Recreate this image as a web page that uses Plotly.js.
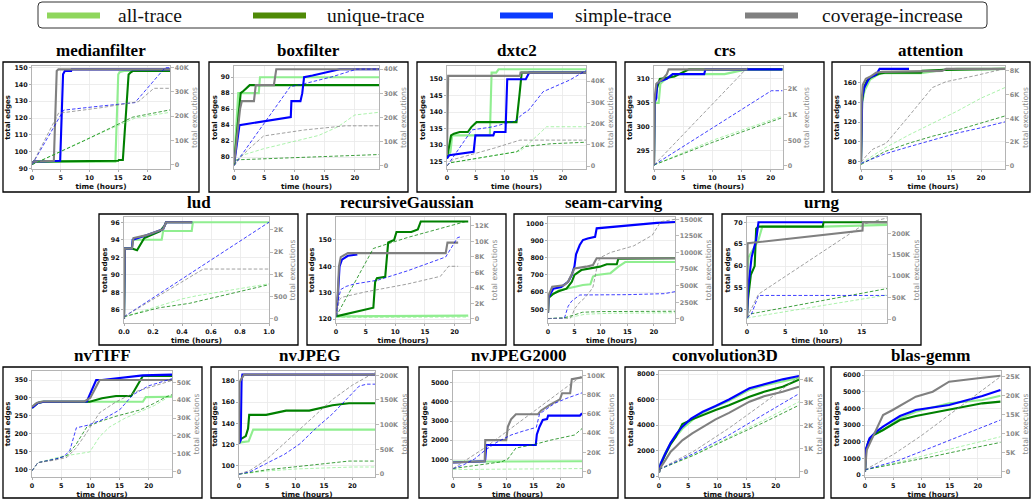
<!DOCTYPE html>
<html><head><meta charset="utf-8">
<script src="https://cdn.plot.ly/plotly-3.0.1.min.js"></script>
<style>html,body{margin:0;padding:0;background:#fff}#chart{width:1036px;height:503px}</style>
</head><body><div id="chart"></div>
<script>
// ---------------- DATA ----------------
const seriesNames = ['all-trace','unique-trace','simple-trace','coverage-increase'];
const panelTitles = ['medianfilter','boxfilter','dxtc2','crs','attention','lud','recursiveGaussian','seam-carving','urng','nvTIFF','nvJPEG','nvJPEG2000','convolution3D','blas-gemm'];

// tick labels
const xticksHours = [0,5,10,15,20];
const xticksUrng = [0,5,10,15];
const xticksLud = [0,0.2,0.4,0.6,0.8,1.0];
const xticksLudText = ['0.0','0.2','0.4','0.6','0.8','1.0'];

const mf_yt = [90,100,110,120,130,140,150];
const bf_yt = [80,82,84,86,88,90];
const dx_yt = [125,130,135,140,145,150];
const crs_yt = [295,300,305,310];
const att_yt = [80,100,120,140,160];
const lud_yt = [86,88,90,92,94,96];
const rg_yt = [120,130,140,150];
const sc_yt = [500,600,700,800,900,1000];
const urng_yt = [50,55,60,65,70];
const tiff_yt = [100,150,200,250,300,350];
const jpeg_yt = [100,120,140,160,180];
const j2k_yt = [1000,2000,3000,4000,5000];
const c3d_yt = [0,2000,4000,6000,8000];
const gemm_yt = [0,1000,2000,3000,4000,5000,6000];

// secondary (executions, in thousands) ticks
const ex40_v = [0,10,20,30,40]; const ex40_t = ['0','10K','20K','30K','40K'];
const crs_ev = [0,0.5,1,1.5]; const crs_et = ['0','500','1K','2K'];
const att_ev = [0,2,4,6,8]; const att_et = ['0','2K','4K','6K','8K'];
const lud_ev = [0,0.5,1,1.5,2]; const lud_et = ['0','500','1K','2K','2K'];
const rg_ev = [0,2,4,6,8,10,12]; const rg_et = ['0','2K','4K','6K','8K','10K','12K'];
const sc_ev = [0,250,500,750,1000,1250,1500]; const sc_et = ['0','250K','500K','750K','1000K','1250K','1500K'];
const k200_v = [0,50,100,150,200]; const k200_t = ['0','50K','100K','150K','200K'];
const tiff_ev = [0,10,20,30,40,50]; const tiff_et = ['0','10K','20K','30K','40K','50K'];
const j2k_ev = [0,20,40,60,80,100]; const j2k_et = ['0','20K','40K','60K','80K','100K'];
const c3d_ev = [0,1,2,3,4]; const c3d_et = ['0','1K','2K','3K','4K'];
const gemm_ev = [0,5,10,15,20,25]; const gemm_et = ['0','5K','10K','15K','20K','25K'];

// [time (hours), total edges]  and  [time (hours), total executions (K)]
// medianfilter
const mf_edges_all  = [[0,93],[0.3,94],[14.5,94],[14.7,120],[15,146],[15.3,147.5],[16,148],[24,148]];
const mf_edges_uniq = [[0,93],[0.3,94],[15,94.5],[15.1,95],[15.8,95],[16.3,120],[16.8,146],[17.1,147],[17.5,148],[24,148]];
const mf_edges_simp = [[0,93],[0.3,94],[4.9,94.5],[5.1,120],[5.4,146],[5.7,148],[6.8,148],[6.9,149],[24,149]];
const mf_edges_cov  = [[0,93],[0.3,94],[3.8,94.5],[4.1,120],[4.3,148],[4.6,149],[24,149]];
const mf_exec_all  = [[0,0],[9,10],[18,19.3],[24,21.6]];
const mf_exec_uniq = [[0,0],[9,9.8],[17.5,19.6],[24,22.6]];
const mf_exec_simp = [[0,0],[5.5,22.5],[12,24.2],[17.9,25.6],[22.7,38.8],[23.2,40],[24,40]];
const mf_exec_cov  = [[0,0],[4.6,21.2],[12,23.5],[18.5,26],[21.2,31.5],[24,31.5]];
// boxfilter
const bf_edges_all  = [[0,79],[0.7,88],[4.1,88],[4.3,90],[24,90]];
const bf_edges_uniq = [[0,79],[0.9,86],[1.1,88],[1.6,88.3],[2.6,89],[24,89]];
const bf_edges_simp = [[0,79],[0.9,84],[9.4,85],[9.5,87],[11,87],[11.3,88],[11.6,90],[13,90.2],[17.5,91],[24,91]];
const bf_edges_cov  = [[0,79],[1.0,86],[1.3,87],[3.3,87],[3.6,89],[6.6,89],[7.0,91],[24,91]];
const bf_exec_all  = [[0,0],[1,4],[4.9,7],[11.7,11.3],[14,12.5],[17.2,16.1],[20,21],[24,22.1]];
const bf_exec_uniq = [[0,0],[0.4,2.4],[10,3.3],[24,4.6]];
const bf_exec_simp = [[0,0],[9.3,32.7],[11.7,34],[16.2,36.8],[20.3,40],[24,40]];
const bf_exec_cov  = [[0,0],[1.5,4.5],[2.5,7],[4.9,12.3],[11.7,14.8],[18.4,16.5],[24,16.5]];
// dxtc2
const dx_edges_all  = [[0,126],[0.6,128],[0.9,133],[7.4,133],[7.7,152],[8.5,152],[8.9,153],[24,153]];
const dx_edges_uniq = [[0,126],[0.7,133],[1.2,133.5],[2.2,134],[3.6,134],[4.2,135.5],[5.1,137],[12,137],[12.5,145],[12.9,152],[24,152]];
const dx_edges_simp = [[0,126],[0.4,127],[4.6,128],[4.9,133],[8.0,133],[8.2,134],[10.1,134],[10.4,150],[13.6,150],[13.9,151],[14.2,152],[24,152]];
const dx_edges_cov  = [[0,127],[0.1,146],[0.2,151],[12.6,151],[12.7,152],[24,152]];
const dx_exec_all  = [[0,0],[0.5,1.5],[12.6,7],[13.5,9],[17.2,18.5],[24,18.5]];
const dx_exec_uniq = [[0,0],[0.5,1.5],[12,6.7],[13.2,9.1],[18,10.5],[24,11.2]];
const dx_exec_simp = [[0,0],[2,8],[4.3,17],[8,18.5],[12,21.5],[13,24.5],[14,26],[16.6,35],[21.2,40.5],[24,45]];
const dx_exec_cov  = [[0,0],[1,3],[8,8.3],[12.6,12.2],[24,12.2]];
// crs
const crs_edges_all  = [[0,292],[0.1,305],[0.8,305],[1.1,309],[2,310],[3.3,311],[12.1,311],[15.8,312],[22,312]];
const crs_edges_uniq = [[0,292],[0.1,305],[0.5,308],[1,310],[3.5,310.5],[6,312],[22,312]];
const crs_edges_simp = [[0,292],[0.1,305],[0.4,306],[0.5,309],[1,309.5],[2.2,310],[3.2,311],[8.6,311],[8.8,312],[22,312]];
const crs_edges_cov  = [[0,292],[0.1,306],[0.4,309],[1.5,310],[2.2,311],[2.5,312],[16,312]];
const crs_exec_all  = [[0,0.02],[10,0.5],[22,0.975]];
const crs_exec_uniq = [[0,0.02],[10,0.46],[22,0.945]];
const crs_exec_simp = [[0,0.02],[20.1,1.47],[22,1.47]];
const crs_exec_cov  = [[0,0.02],[16,1.92]];
// attention
const att_edges_all  = [[0,80],[0.2,140],[0.6,152],[1.5,163],[2.5,167],[3.3,169.5],[10,169.5],[13.7,173],[16,174],[24,174]];
const att_edges_uniq = [[0,80],[0.15,140],[0.5,155],[1,162],[1.8,166],[3,169],[4,170],[10,170],[10.2,172],[14,173],[24,174]];
const att_edges_simp = [[0,80],[0.2,145],[0.55,155],[1.4,165],[2.5,168],[3.1,174],[8,174]];
const att_edges_cov  = [[0,80],[0.1,140],[0.3,158],[0.8,164],[1.5,166],[2.5,170],[3.5,171],[13.5,172],[14.2,174],[24,174]];
const att_exec_all  = [[0,0.2],[4,1.5],[8,2.6],[12,3.6],[16,4.6],[20,5.7],[24,6.6]];
const att_exec_uniq = [[0,0.1],[4,1.2],[8,1.9],[12,2.5],[16,3.0],[20,3.6],[24,4.2]];
const att_exec_simp = [[0,0.2],[4,1.0],[8,1.6],[12,2.2],[16,2.75],[20,3.2],[24,3.7]];
const att_exec_cov  = [[0,0.3],[1,0.9],[2,1.4],[4.2,1.9],[8,4.2],[11.9,6.6],[14.2,7.1],[19,7.6],[24,8.2]];
// lud
const lud_edges_all  = [[0,85],[0.005,93],[0.053,93],[0.06,94],[0.26,94],[0.27,95],[0.467,95],[0.475,96],[1,96]];
const lud_edges_uniq = [[0,85],[0.005,93],[0.055,93],[0.09,92.8],[0.14,94.2],[0.25,95],[0.28,95.6],[0.29,96],[0.47,96]];
const lud_edges_simp = [[0,85],[0.005,93],[0.055,93],[0.06,94],[0.15,94.5],[0.27,95.2],[0.29,96],[0.47,96]];
const lud_edges_cov  = [[0,85],[0.005,93],[0.055,93],[0.06,94],[0.065,94.2],[0.15,94.5],[0.27,95.2],[0.29,96],[0.47,96]];
const lud_exec_all  = [[0,0.05],[0.24,0.28],[0.4,0.45],[0.5,0.52],[1,0.79]];
const lud_exec_uniq = [[0,0.05],[0.24,0.25],[0.45,0.35],[1,0.77]];
const lud_exec_simp = [[0,0.05],[1,2.17]];
const lud_exec_cov  = [[0,0.05],[0.547,1.12],[1,1.12]];
// recursiveGaussian
const rg_edges_all  = [[0,121],[22.3,121.3]];
const rg_edges_uniq = [[0,121],[6.3,124.3],[6.6,134],[6.9,135.5],[8.3,136],[8.8,149],[9.8,150],[10.2,153],[12.7,153],[13.8,154],[14.3,157],[22.3,157]];
const rg_edges_simp = [[0,121],[0.3,128],[0.6,140],[1,142.5],[2,144],[3.6,144.5]];
const rg_edges_cov  = [[0,121],[0.3,130],[0.5,140],[0.8,143.5],[2,145],[18.5,145],[18.8,149],[20.6,149]];
const rg_exec_all  = [[0,0.2],[22.3,0.25]];
const rg_exec_uniq = [[0,0.3],[6.3,9.1],[12,10.5],[18,11.7],[22,12.6]];
const rg_exec_simp = [[0,0.3],[0.4,2.5],[0.8,3.8],[1.7,4.2],[3,4.5],[7,5],[12,6.2],[18.5,8.0],[20.5,10.5],[21,10.6]];
const rg_exec_cov  = [[0,0.3],[0.6,2.5],[1,2.8],[5,3.5],[12,4.5],[17.6,5.5],[19,6.8],[20.6,6.8]];
// seam-carving
const sc_edges_all  = [[0,480],[0.1,570],[2,610],[4,625],[6.6,641],[8,645],[8.5,690],[9.2,700],[11.8,710],[13.3,748],[14.6,775],[24,775]];
const sc_edges_uniq = [[0,480],[0.1,565],[1,590],[2,605],[3.5,620],[4.5,660],[5,700],[6.3,728],[9.8,748],[11.1,762],[13,762],[13.3,795],[24,797]];
const sc_edges_simp = [[0,480],[0.1,570],[1,620],[2.5,630],[3.8,660],[4.5,700],[5,750],[5.3,820],[6,874],[6.6,903],[7.5,912],[8.9,922],[9.2,971],[12.4,980],[16.2,989],[20.6,1003],[24,1008]];
const sc_edges_cov  = [[0,480],[0.1,580],[0.8,631],[3,640],[3.8,660],[5,738],[7.2,748],[8.5,757],[9.2,797],[24,797]];
const sc_exec_all  = [[0,5],[4,20],[7,70],[12,85],[24,92]];
const sc_exec_uniq = [[0,5],[3,15],[5,60],[6.5,100],[10,110],[24,115]];
const sc_exec_simp = [[0,5],[3.1,10],[3.8,190],[4.5,270],[5,300],[6,360],[15,365],[20,368],[22,380],[24,410]];
const sc_exec_cov  = [[0,5],[4.2,10],[4.6,60],[5,150],[6,250],[7,320],[8,420],[8.5,480],[9.3,800],[9.8,920],[11.8,1000],[16.2,1100],[19.7,1260],[21.3,1465],[24,1500]];
// urng
const urng_edges_all  = [[0,48.5],[0.05,58],[0.2,62],[1.5,66],[2,69],[10,69],[18.3,69.4]];
const urng_edges_uniq = [[0,48.5],[0.1,52],[0.5,58],[1.0,60],[1.2,68.5],[1.5,69],[9.9,69],[10,70],[18.3,70]];
const urng_edges_simp = [[0,48.5],[0.15,55],[0.6,62],[1.2,66],[1.5,70],[9.9,70]];
const urng_edges_cov  = [[0,48.5],[0.08,65.2],[15.1,68.1],[15.15,70],[18.3,70]];
const urng_exec_all  = [[0,2],[0.5,4],[18.3,56]];
const urng_exec_uniq = [[0,3],[0.5,12],[18.3,71]];
const urng_exec_simp = [[0,2],[0.6,12],[1.5,55],[18.3,55]];
const urng_exec_cov  = [[0,3],[0.7,30],[1.5,58],[15.4,222],[18.3,236]];
// nvTIFF
const tiff_edges_all  = [[0,272],[0.5,282],[1.5,289],[19,289],[19.5,302],[24,303]];
const tiff_edges_uniq = [[0,272],[1,286],[2,289],[9.9,289],[12,299],[14.4,305],[17,305],[17.5,320],[19,361],[24,361]];
const tiff_edges_simp = [[0,272],[1,286],[2,289],[9.4,290],[11,350],[12,350],[19,363],[24,365]];
const tiff_edges_cov  = [[0,275],[0.8,286],[1.8,290],[9,290],[10,300],[11.6,350],[24,350]];
const tiff_exec_all  = [[0,0.5],[1,5],[5,8.5],[9.9,11],[11.6,19.6],[13.3,25],[16,30],[18.5,33.5],[21,37],[24,43]];
const tiff_exec_uniq = [[0,0.5],[1,5],[4,7],[6,9],[7.5,15],[9.4,25],[11.6,28],[14.4,31],[18.5,34.5],[20.8,38],[23.1,42],[24,43]];
const tiff_exec_simp = [[0,0.5],[1,5],[4,7],[5.5,8.5],[6.5,12],[7.6,24.5],[9.6,26],[12,29],[15,34.5],[17.3,43],[20,48],[24,52]];
const tiff_exec_cov  = [[0,0.5],[1,5],[4,6.5],[6,8],[7.5,13],[9,20],[11.6,33],[14.4,39],[18,45],[24,51]];
// nvJPEG
const jpeg_edges_all  = [[0,121],[0.3,122],[1.7,123],[2.5,134],[24,134]];
const jpeg_edges_uniq = [[0,121],[0.3,125],[1.2,128],[1.6,135],[1.8,148],[4.8,148],[8.3,152],[12.4,152],[16.5,157],[19.4,159],[24,159]];
const jpeg_edges_simp = [[0,121],[0.3,124],[0.45,180],[0.6,186],[24,186]];
const jpeg_edges_cov  = [[0,121],[0.05,178],[0.3,181],[0.6,184],[0.9,186],[24,186]];
const jpeg_exec_all  = [[0,0],[5,6.5],[10,10.5],[15,13],[20,14.5],[24,14.5]];
const jpeg_exec_uniq = [[0,0],[5,9],[10,15],[15,21],[19.4,26.5],[24,26.5]];
const jpeg_exec_simp = [[0,0],[2,5],[4.8,21.5],[8,40],[10.7,61],[13.5,92],[16.5,122],[19,152],[21.2,178],[22.5,182],[24,182]];
const jpeg_exec_cov  = [[0,0],[2,8],[4.8,29],[10.7,90],[16.5,151],[20,180],[24,206]];
// nvJPEG2000
const j2k_edges_all  = [[0,830],[0.1,880],[24,900]];
const j2k_edges_uniq = [];
const j2k_edges_simp = [[0,830],[5.9,900],[6,1000],[6.2,1750],[15.4,1750],[15.6,2300],[16.1,2700],[16.7,3050],[17.5,3100],[17.7,3280],[23.6,3280],[24,3400]];
const j2k_edges_cov  = [[0,830],[5.9,900],[6,2000],[9.9,2000],[10.2,2700],[10.8,3090],[11.7,3350],[15.8,3350],[16.4,3550],[18,3840],[19.9,4130],[20.3,4450],[21.8,4450],[22.1,5180],[24,5280]];
const j2k_exec_all  = [[0,2],[24,3]];
const j2k_exec_uniq = [[0,3],[5,7],[9,10],[10.2,13],[11.7,24.4],[15,28],[18.2,32.7],[22.6,38],[24,44.7]];
const j2k_exec_simp = [[0,3],[2,7],[4,13],[5.9,21.8],[8,30],[10.8,38],[13,42],[15.5,46],[16.1,60],[18.9,71],[21,76],[24,82]];
const j2k_exec_cov  = [[0,3],[6,25],[12,50],[18,75],[24,100]];
// convolution3D
const c3d_edges_all  = [[0,300],[0.3,1000],[1,1750],[2,2600],[4,3700],[6,4500],[7.5,4950],[9.7,5450],[12,5900],[15.5,6750],[18,7100],[21.2,7450],[24,7700]];
const c3d_edges_uniq = [[0,300],[0.3,900],[1,1600],[2,2500],[2.9,3080],[4,4080],[5.7,4440],[7.5,4800],[9.7,5180],[12,5550],[15.5,6220],[18,6600],[21.2,7000],[24,7550]];
const c3d_edges_simp = [[0,300],[0.3,1000],[1.1,1780],[2,2600],[3,3300],[4,3870],[5.5,4500],[7.5,5040],[9.7,5490],[12,6000],[15.5,6880],[18,7200],[21.2,7580],[24,7840]];
const c3d_edges_cov  = [[0,300],[0.3,700],[1.1,1250],[2,1900],[2.9,2300],[4,2800],[5.7,3350],[7.5,3870],[9.7,4440],[12,4950],[15.5,5830],[18,6250],[21.2,6610],[24,7000]];
const c3d_exec_all  = [[0,0.1],[6,0.75],[12,1.5],[18,2.25],[24,3.05]];
const c3d_exec_uniq = [[0,0.1],[6,0.72],[12,1.45],[18,2.15],[24,2.9]];
const c3d_exec_simp = [[0,0.1],[6,0.8],[12,1.6],[18,2.5],[24,3.4]];
const c3d_exec_cov  = [[0,0.1],[6,0.9],[12,1.9],[18,3.0],[24,4.15]];
// blas-gemm
const gemm_edges_all  = [[0,200],[0.2,1500],[0.6,2000],[1.5,2400],[3.2,2700],[6.2,3400],[9,3800],[14.9,4300],[20.8,4500],[24,4760]];
const gemm_edges_uniq = [[0,200],[0.2,1500],[0.6,2000],[1.5,2400],[3.2,2700],[6.2,3300],[9,3540],[14.9,3900],[20.8,4300],[24,4400]];
const gemm_edges_simp = [[0,200],[0.2,1600],[0.8,2200],[2,2600],[3.2,2900],[6.2,3540],[9,3900],[14.9,4200],[20.8,4740],[24,5100]];
const gemm_edges_cov  = [[0,200],[0.3,1500],[1,2000],[2,2700],[3.2,3600],[4.9,3900],[9,4700],[12,5000],[14.9,5600],[20.8,5840],[24,5960]];
const gemm_exec_all  = [[0,0.5],[6,2.5],[12,4.8],[18,7],[24,9.2]];
const gemm_exec_uniq = [[0,0.5],[6,2.2],[12,4],[18,5.9],[24,7.7]];
const gemm_exec_simp = [[0,0.5],[6,3],[12,6.5],[18,10],[24,13.6]];
const gemm_exec_cov  = [[0,0.5],[5,4.5],[10,9.5],[15,15],[20,20.5],[24,25]];

// ---------------- LAYOUT / DRAWING ----------------
const W = 1036, H = 503;
const LINE_COL = ['#90ee90', '#008000', '#0000ff', '#808080'];
const LEG_COL = ['#8fd65c', '#4f8a06', '#0b3cff', '#808080'];
const SANS = 'DejaVu Sans';
const SERIF = 'Liberation Serif';

// frame [l,r,t,b], plot [l,r,t,b] in pixels
const panels = [
  {f:[3,199,62,192],   p:[32,170,66,169],   xr:[0,24],   y1r:[89.6,151],   y2r:[-1.77,40.7], xt:xticksHours, y1t:mf_yt, ev:ex40_v, et:ex40_t,
   E:[mf_edges_all,mf_edges_uniq,mf_edges_simp,mf_edges_cov], X:[mf_exec_all,mf_exec_uniq,mf_exec_simp,mf_exec_cov]},
  {f:[209,408,62,192], p:[234,379,66,169],  xr:[0,24],   y1r:[78.5,91.4],  y2r:[-1.4,41.3], xt:xticksHours, y1t:bf_yt, ev:ex40_v, et:ex40_t,
   E:[bf_edges_all,bf_edges_uniq,bf_edges_simp,bf_edges_cov], X:[bf_exec_all,bf_exec_uniq,bf_exec_simp,bf_exec_cov]},
  {f:[417,616,62,192], p:[447,586,66,169],  xr:[0,24],   y1r:[122.8,154],  y2r:[-1.4,47.1], xt:xticksHours, y1t:dx_yt, ev:ex40_v, et:ex40_t,
   E:[dx_edges_all,dx_edges_uniq,dx_edges_simp,dx_edges_cov], X:[dx_exec_all,dx_exec_uniq,dx_exec_simp,dx_exec_cov]},
  {f:[625,824,62,192], p:[654,783,66,169],  xr:[0,22.1], y1r:[291.2,312.7],y2r:[-0.059,1.953], xt:xticksHours, y1t:crs_yt, ev:crs_ev, et:crs_et,
   E:[crs_edges_all,crs_edges_uniq,crs_edges_simp,crs_edges_cov], X:[crs_exec_all,crs_exec_uniq,crs_exec_simp,crs_exec_cov]},
  {f:[832,1030,62,192],p:[861,1005,66,169], xr:[0,24],   y1r:[72.6,176.9], y2r:[-0.28,8.42], xt:xticksHours, y1t:att_yt, ev:att_ev, et:att_et,
   E:[att_edges_all,att_edges_uniq,att_edges_simp,att_edges_cov], X:[att_exec_all,att_exec_uniq,att_exec_simp,att_exec_cov]},
  {f:[99,298,214,345], p:[124,269,217,323], xr:[0,1],    y1r:[84.5,96.6],  y2r:[-0.09,2.287], xt:xticksLud, xtt:xticksLudText, y1t:lud_yt, ev:lud_ev, et:lud_et,
   E:[lud_edges_all,lud_edges_uniq,lud_edges_simp,lud_edges_cov], X:[lud_exec_all,lud_exec_uniq,lud_exec_simp,lud_exec_cov]},
  {f:[307,506,214,345],p:[336,470,217,323], xr:[0,22.6], y1r:[118.5,158.7],y2r:[-0.52,13.16], xt:xticksHours, y1t:rg_yt, ev:rg_ev, et:rg_et,
   E:[rg_edges_all,rg_edges_uniq,rg_edges_simp,rg_edges_cov], X:[rg_exec_all,rg_exec_uniq,rg_exec_simp,rg_exec_cov]},
  {f:[514,713,214,345],p:[548,675,217,323], xr:[0,24],   y1r:[420,1037],   y2r:[-62,1535], xt:xticksHours, y1t:sc_yt, ev:sc_ev, et:sc_et,
   E:[sc_edges_all,sc_edges_uniq,sc_edges_simp,sc_edges_cov], X:[sc_exec_all,sc_exec_uniq,sc_exec_simp,sc_exec_cov]},
  {f:[722,921,214,345],p:[747,887,217,323], xr:[0,18.3], y1r:[47.0,71.2],  y2r:[-9.3,238], xt:xticksUrng, y1t:urng_yt, ev:k200_v, et:k200_t,
   E:[urng_edges_all,urng_edges_uniq,urng_edges_simp,urng_edges_cov], X:[urng_exec_all,urng_exec_uniq,urng_exec_simp,urng_exec_cov]},
  {f:[3,202,367,498],  p:[32,172,371,477],  xr:[0,24],   y1r:[78.4,375.2], y2r:[-3,56.3], xt:xticksHours, y1t:tiff_yt, ev:tiff_ev, et:tiff_et,
   E:[tiff_edges_all,tiff_edges_uniq,tiff_edges_simp,tiff_edges_cov], X:[tiff_exec_all,tiff_exec_uniq,tiff_exec_simp,tiff_exec_cov]},
  {f:[211,408,367,498],p:[239,375,371,477], xr:[0,24],   y1r:[89.3,189.4], y2r:[-5.7,208.6], xt:xticksHours, y1t:jpeg_yt, ev:k200_v, et:k200_t,
   E:[jpeg_edges_all,jpeg_edges_uniq,jpeg_edges_simp,jpeg_edges_cov], X:[jpeg_exec_all,jpeg_exec_uniq,jpeg_exec_simp,jpeg_exec_cov]},
  {f:[419,618,367,498],p:[453,582,371,477], xr:[0,24],   y1r:[77,5610],    y2r:[-5.8,104.8], xt:xticksHours, y1t:j2k_yt, ev:j2k_ev, et:j2k_et,
   E:[j2k_edges_all,j2k_edges_uniq,j2k_edges_simp,j2k_edges_cov], X:[j2k_exec_all,j2k_exec_uniq,j2k_exec_simp,j2k_exec_cov]},
  {f:[625,824,367,498],p:[659,799,371,477], xr:[0,24],   y1r:[-78,8235],   y2r:[-0.23,4.39], xt:xticksHours, y1t:c3d_yt, ev:c3d_ev, et:c3d_et,
   E:[c3d_edges_all,c3d_edges_uniq,c3d_edges_simp,c3d_edges_cov], X:[c3d_exec_all,c3d_exec_uniq,c3d_exec_simp,c3d_exec_cov]},
  {f:[831,1030,367,498],p:[865,1001,371,477],xr:[0,24.1], y1r:[-120,6240],  y2r:[-1.4,26.5], xt:xticksHours, y1t:gemm_yt, ev:gemm_ev, et:gemm_et,
   E:[gemm_edges_all,gemm_edges_uniq,gemm_edges_simp,gemm_edges_cov], X:[gemm_exec_all,gemm_exec_uniq,gemm_exec_simp,gemm_exec_cov]}
];

const layout = {
  width: W, height: H, margin: {l:0, r:0, t:0, b:0}, paper_bgcolor: '#fff', plot_bgcolor: '#fff',
  showlegend: false, shapes: [], annotations: []
};
const traces = [];
const tickFont = {family: SANS, size: 6.4, color: '#111', weight: 'bold'};
const tickFont2 = {family: SANS, size: 6.4, color: '#8a8a8a', weight: 'bold'};

panels.forEach((pn, i) => {
  const n = i + 1;
  const xid = n === 1 ? 'x' : 'x' + n;
  const y1n = 2*n - 1, y2n = 2*n;
  const y1id = y1n === 1 ? 'y' : 'y' + y1n;
  const y2id = 'y' + y2n;
  const [pl, pr, pt, pb] = pn.p;
  layout[n === 1 ? 'xaxis' : 'xaxis' + n] = {
    domain: [pl/W, pr/W], range: pn.xr, anchor: y1id,
    tickmode: 'array', tickvals: pn.xt, ticktext: pn.xtt || pn.xt.map(String),
    showgrid: true, gridcolor: '#e8e8e8', gridwidth: 0.8, zeroline: false,
    showline: true, linecolor: '#b4b4b4', linewidth: 1, mirror: true,
    ticks: 'outside', ticklen: 2, tickwidth: 0.8, tickcolor: '#999',
    tickfont: tickFont, fixedrange: true,
    title: {text: 'time (hours)', font: {family: SANS, size: 7.3, color: '#111', weight: 'bold'}, standoff: 1}
  };
  layout[y1n === 1 ? 'yaxis' : 'yaxis' + y1n] = {
    domain: [1 - pb/H, 1 - pt/H], range: pn.y1r, anchor: xid,
    tickmode: 'array', tickvals: pn.y1t,
    showgrid: true, gridcolor: '#e8e8e8', gridwidth: 0.8, zeroline: false,
    showline: true, linecolor: '#b4b4b4', linewidth: 1, mirror: true,
    ticks: 'outside', ticklen: 2, tickwidth: 0.8, tickcolor: '#999',
    tickfont: tickFont, fixedrange: true,
    title: {text: 'total edges', font: {family: SANS, size: 7, color: '#111', weight: 'bold'}, standoff: 2}
  };
  layout['yaxis' + y2n] = {
    overlaying: y1id, side: 'right', anchor: xid, range: pn.y2r,
    tickmode: 'array', tickvals: pn.ev, ticktext: pn.et,
    showgrid: false, zeroline: false, showline: false,
    ticks: 'outside', ticklen: 2.5, tickwidth: 0.8, tickcolor: '#aaa',
    tickfont: tickFont2, fixedrange: true,
    title: {text: 'total executions', font: {family: SANS, size: 7.6, color: '#8a8a8a'}, standoff: 3}
  };
  // dashed: executions on the right axis
  pn.X.forEach((s, k) => {
    traces.push({type: 'scatter', mode: 'lines', xaxis: xid, yaxis: y2id,
      x: s.map(d => d[0]), y: s.map(d => d[1]), name: seriesNames[k] + ' (executions)',
      line: {color: LINE_COL[k], width: 1, dash: '3.5px,2px'}, opacity: 0.75, hoverinfo: 'skip'});
  });
  // solid: edges on the left axis
  pn.E.forEach((s, k) => {
    traces.push({type: 'scatter', mode: 'lines', xaxis: xid, yaxis: y1id,
      x: s.map(d => d[0]), y: s.map(d => d[1]), name: seriesNames[k],
      line: {color: LINE_COL[k], width: 2.1}, hoverinfo: 'skip'});
  });
  // frame
  const [fl, fr, ft, fb] = pn.f;
  layout.shapes.push({type: 'rect', xref: 'paper', yref: 'paper',
    x0: fl/W, x1: fr/W, y0: 1 - fb/H, y1: 1 - ft/H, line: {color: '#000', width: 1.3}, fillcolor: 'rgba(0,0,0,0)', layer: 'above'});
  // panel title
  layout.annotations.push({xref: 'paper', yref: 'paper', x: (fl + fr)/2/W, y: 1 - (ft - 12)/H,
    xanchor: 'center', yanchor: 'middle', showarrow: false, text: '<b>' + panelTitles[i] + '</b>',
    font: {family: SERIF, size: 17, color: '#000'}});
});

// legend box (rounded)
function P(x, y) { return (x/W) + ',' + (1 - y/H); }
const bx0 = 38, bx1 = 987, by0 = 2, by1 = 28, r = 4;
layout.shapes.push({type: 'path', xref: 'paper', yref: 'paper', line: {color: '#333', width: 1}, fillcolor: '#fff',
  path: 'M' + P(bx0 + r, by0) + ' L' + P(bx1 - r, by0) + ' Q' + P(bx1, by0) + ' ' + P(bx1, by0 + r) +
        ' L' + P(bx1, by1 - r) + ' Q' + P(bx1, by1) + ' ' + P(bx1 - r, by1) +
        ' L' + P(bx0 + r, by1) + ' Q' + P(bx0, by1) + ' ' + P(bx0, by1 - r) +
        ' L' + P(bx0, by0 + r) + ' Q' + P(bx0, by0) + ' ' + P(bx0 + r, by0) + ' Z'});
const legLineX = [47, 253, 500, 745];
const legTextX = [116, 325, 573, 820];
seriesNames.forEach((nm, k) => {
  layout.shapes.push({type: 'line', xref: 'paper', yref: 'paper',
    x0: legLineX[k]/W, x1: (legLineX[k] + 53)/W, y0: 1 - 15.5/H, y1: 1 - 15.5/H,
    line: {color: LEG_COL[k], width: 6}});
  layout.annotations.push({xref: 'paper', yref: 'paper', x: legTextX[k]/W, y: 1 - 15/H,
    xanchor: 'left', yanchor: 'middle', showarrow: false, text: nm,
    font: {family: SERIF, size: 19.5, color: '#111'}});
});

Plotly.newPlot('chart', traces, layout, {displayModeBar: false, staticPlot: true});
</script>
</body></html>
